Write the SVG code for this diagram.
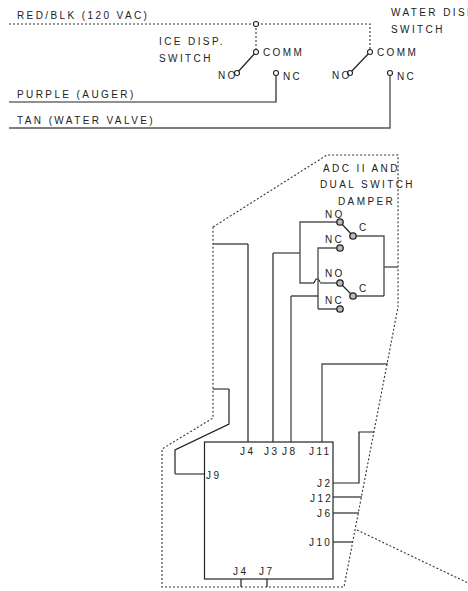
<svg xmlns="http://www.w3.org/2000/svg" width="468" height="591" viewBox="0 0 468 591">
<style>
text{font-family:"Liberation Sans",Arial,sans-serif;font-size:10px;letter-spacing:2.4px;fill:#222}
.w{fill:none;stroke:#222;stroke-width:1.2}
.g{fill:none;stroke:#555;stroke-width:1.4}
.d{fill:none;stroke:#333;stroke-width:1.1;stroke-dasharray:2 2}
.o{fill:#fff;stroke:#222;stroke-width:1.1}
.t{fill:#bbb;stroke:#222;stroke-width:1.3}
</style>
<rect width="468" height="591" fill="#fff"/>
<g id="connectors">
<path class="d" d="M9 24H370V52M256 24V52"/>
<path class="w" d="M256 52L237 73M370 52L350 73"/>
<path class="w" d="M276 73V102H9"/>
<path class="g" d="M390 73V128H9"/>
<path class="d" d="M213 227L327 155H398V307L344 587H162V449L213 418V227"/>
<path class="d" d="M357 530L468 583"/>
<path class="g" d="M213 244H248"/><path class="w" d="M248 244V442"/>
<path class="w" d="M273 442V253"/><path class="g" d="M273 253H300"/>
<path class="g" d="M340 222H300V283H314"/><path class="w" d="M314 283Q317 275 320 282"/><path class="g" d="M320 283H340"/>
<path class="g" d="M340 248H318V309"/><path class="w" d="M318 309H340"/>
<path class="g" d="M291 442V296"/><path class="w" d="M291 296H318"/>
<path class="w" d="M340 222L353 236M340 283L353 296"/>
<path class="g" d="M353 236H384V296"/><path class="w" d="M384 296H353"/><path class="g" d="M384 267H398"/>
<path class="g" d="M322 442V364H388"/>
<path class="w" d="M333 483H359V432H374"/>
<path class="g" d="M333 497H362M333 513H359M333 542H353"/>
<path class="w" d="M241 579V587M267 579V587"/>
<path class="g" d="M213 389H229"/><path class="w" d="M229 389V424L175 450V474"/><path class="g" d="M175 474H204"/>
</g>
<g id="red-blk-label"><text x="17" y="19">RED/BLK (120 VAC)</text></g>
<g id="purple-label"><text x="17" y="98">PURPLE (AUGER)</text></g>
<g id="tan-label"><text x="17" y="124">TAN (WATER VALVE)</text></g>
<g id="ice-switch">
<text x="159" y="45">ICE DISP.</text><text x="159" y="62">SWITCH</text>
<circle class="o" cx="256" cy="24" r="2.5"/>
<circle class="o" cx="256" cy="52" r="2.5"/><circle class="o" cx="237" cy="73" r="2.5"/><circle class="o" cx="276" cy="73" r="2.5"/>
<text x="263" y="56">COMM</text><text x="218" y="79">NO</text><text x="283" y="80">NC</text>
</g>
<g id="water-switch">
<text x="391" y="16">WATER DISP.</text><text x="391" y="33">SWITCH</text>
<circle class="o" cx="370" cy="52" r="2.5"/><circle class="o" cx="350" cy="73" r="2.5"/><circle class="o" cx="390" cy="73" r="2.5"/>
<text x="377" y="56">COMM</text><text x="332" y="79">NO</text><text x="397" y="80">NC</text>
</g>
<g id="damper">
<text x="323" y="172">ADC II AND</text><text x="320" y="188">DUAL SWITCH</text><text x="338" y="205">DAMPER</text>
<circle class="t" cx="340" cy="222" r="3.2"/><circle class="t" cx="353" cy="236" r="3.2"/><circle class="t" cx="340" cy="248" r="3.2"/>
<circle class="t" cx="340" cy="283" r="3.2"/><circle class="t" cx="353" cy="296" r="3.2"/><circle class="t" cx="340" cy="309" r="3.2"/>
<text x="325" y="218">NO</text><text x="359" y="231">C</text><text x="325" y="243">NC</text>
<text x="325" y="277">NO</text><text x="359" y="292">C</text><text x="325" y="304">NC</text>
</g>
<g id="control-board">
<rect x="204.500" y="442" width="128.500" height="137" fill="none" stroke="#222" stroke-width="1.2"/>
<text x="240" y="455">J4</text><text x="264" y="455">J3</text><text x="282" y="455">J8</text><text x="309" y="455">J11</text>
<text x="206" y="479">J9</text>
<text x="317" y="487">J2</text><text x="310" y="502">J12</text><text x="317" y="517">J6</text><text x="309" y="546">J10</text>
<text x="233" y="575">J4</text><text x="259" y="575">J7</text>
</g>
</svg>
